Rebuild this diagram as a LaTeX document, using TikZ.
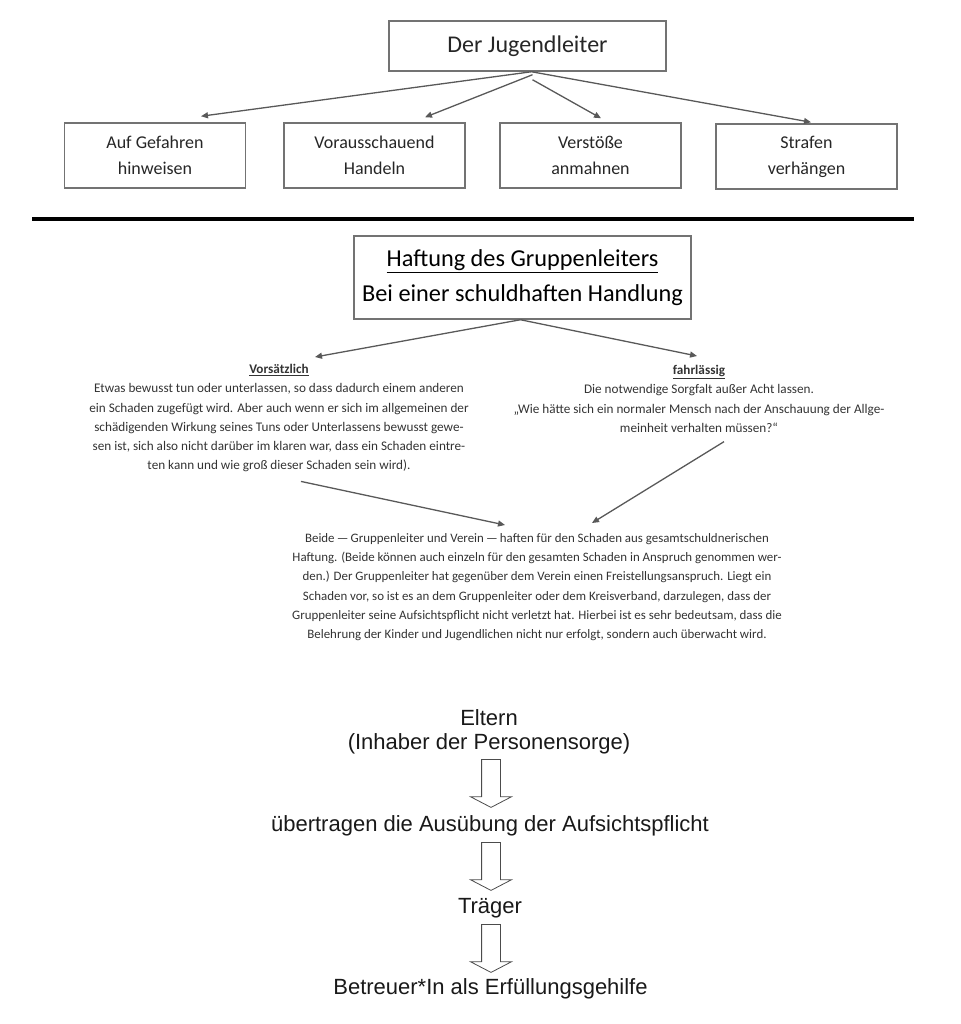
\documentclass[tikz,border=0pt]{standalone}
\usepackage{fontspec}
\setmainfont{Carlito}
\newfontfamily\arialfont{Liberation Sans}
\usetikzlibrary{arrows.meta, shapes.arrows}

\tikzset{
  kasten/.style={draw=black!55, line width=1.5pt, minimum width=181pt, minimum height=65pt, align=center, text=black!85, font=\fontsize{18}{26}\selectfont},
  pfeil/.style={draw=black!65, line width=1.3pt, -{Triangle[length=7pt,width=6pt]}},
  fliess/.style={inner sep=0pt, align=center, text=black!80, font=\fontsize{13.2}{19.3}\selectfont},
  sorge/.style={inner sep=0pt, align=center, text=black!90, font=\arialfont\fontsize{22}{24}\selectfont},
  blockpfeil/.style={single arrow, draw=black!70, line width=0.8pt, fill=white, rotate=-90, anchor=tail, inner sep=0pt, inner ysep=9pt, minimum height=48pt, single arrow head extend=11pt, single arrow tip angle=125}
}

\begin{document}
\begin{tikzpicture}[x=1pt, y=-1pt]
\useasboundingbox (0,0) rectangle (960,1024);

\node[kasten, minimum width=277pt, minimum height=50pt, font=\fontsize{24}{29}\selectfont] (jl) at (527.5,46) {Der Jugendleiter};
\node[kasten] (gef) at (155,155.5) {Auf Gefahren\\hinweisen};
\node[kasten] (vor) at (374.5,155.5) {Vorausschauend\\Handeln};
\node[kasten] (vst) at (590.5,155.5) {Verstöße\\anmahnen};
\node[kasten] (str) at (806.5,156.5) {Strafen\\verhängen};

\draw[pfeil] ([xshift=4pt]jl.south) -- ([xshift=46pt,yshift=6pt]gef.north);
\draw[pfeil] ([xshift=5pt,yshift=-3pt]jl.south) -- ([xshift=50.5pt,yshift=5pt]vor.north);
\draw[pfeil] ([xshift=5pt,yshift=-8pt]jl.south) -- ([xshift=10.5pt,yshift=4pt]vst.north);
\draw[pfeil] ([xshift=4pt]jl.south) -- ([xshift=4.5pt,yshift=1pt]str.north);

\draw[line width=4pt] (32,219) -- (914,219);

\node[kasten, minimum width=337pt, minimum height=83pt, text=black, font=\fontsize{24.3}{35}\selectfont] (hg) at (522.5,277.5) {\underline{Haftung des Gruppenleiters}\\Bei einer schuldhaften Handlung};

\node[fliess, anchor=north] (vors) at (279,364) {\textbf{\underline{Vorsätzlich}}\\
Etwas bewusst tun oder unterlassen, so dass dadurch einem anderen\\
ein Schaden zugefügt wird. Aber auch wenn er sich im allgemeinen der\\
schädigenden Wirkung seines Tuns oder Unterlassens bewusst gewe-\\
sen ist, sich also nicht darüber im klaren war, dass ein Schaden eintre-\\
ten kann und wie groß dieser Schaden sein wird).};

\node[fliess, anchor=north] (fahr) at (699,365) {\textbf{\underline{fahrlässig}}\\
Die notwendige Sorgfalt außer Acht lassen.\\
„Wie hätte sich ein normaler Mensch nach der Anschauung der Allge-\\
meinheit verhalten müssen?“};

\draw[pfeil] ([xshift=-2pt]hg.south) -- ([xshift=36pt,yshift=7pt]vors.north);
\draw[pfeil] ([xshift=-2pt]hg.south) -- ([xshift=-2pt,yshift=9pt]fahr.north);

\node[fliess, anchor=north, font=\fontsize{12.9}{19.3}\selectfont] (beide) at (537,533) {Beide\,—\,Gruppenleiter und Verein\,—\,haften für den Schaden aus gesamtschuldnerischen\\
Haftung. (Beide können auch einzeln für den gesamten Schaden in Anspruch genommen wer-\\
den.) Der Gruppenleiter hat gegenüber dem Verein einen Freistellungsanspruch. Liegt ein\\
Schaden vor, so ist es an dem Gruppenleiter oder dem Kreisverband, darzulegen, dass der\\
Gruppenleiter seine Aufsichtspflicht nicht verletzt hat. Hierbei ist es sehr bedeutsam, dass die\\
Belehrung der Kinder und Jugendlichen nicht nur erfolgt, sondern auch überwacht wird.};

\draw[pfeil] ([xshift=22pt,yshift=-9pt]vors.south) -- ([xshift=-32pt,yshift=8pt]beide.north);
\draw[pfeil] ([xshift=25pt,yshift=-9pt]fahr.south) -- ([xshift=55pt,yshift=10pt]beide.north);

\node[sorge] (eltern) at (489,732) {Eltern\\(Inhaber der Personensorge)};
\node[blockpfeil] (pf1) at (491,759) {};
\node[sorge] (uebertragen) at (490,826) {übertragen die Ausübung der Aufsichtspflicht};
\node[blockpfeil] (pf2) at (491,842) {};
\node[sorge] (traeger) at (490,908) {Träger};
\node[blockpfeil] (pf3) at (491,924) {};
\node[sorge] (betreuer) at (490.5,989) {Betreuer*In als Erfüllungsgehilfe};

\end{tikzpicture}
\end{document}
